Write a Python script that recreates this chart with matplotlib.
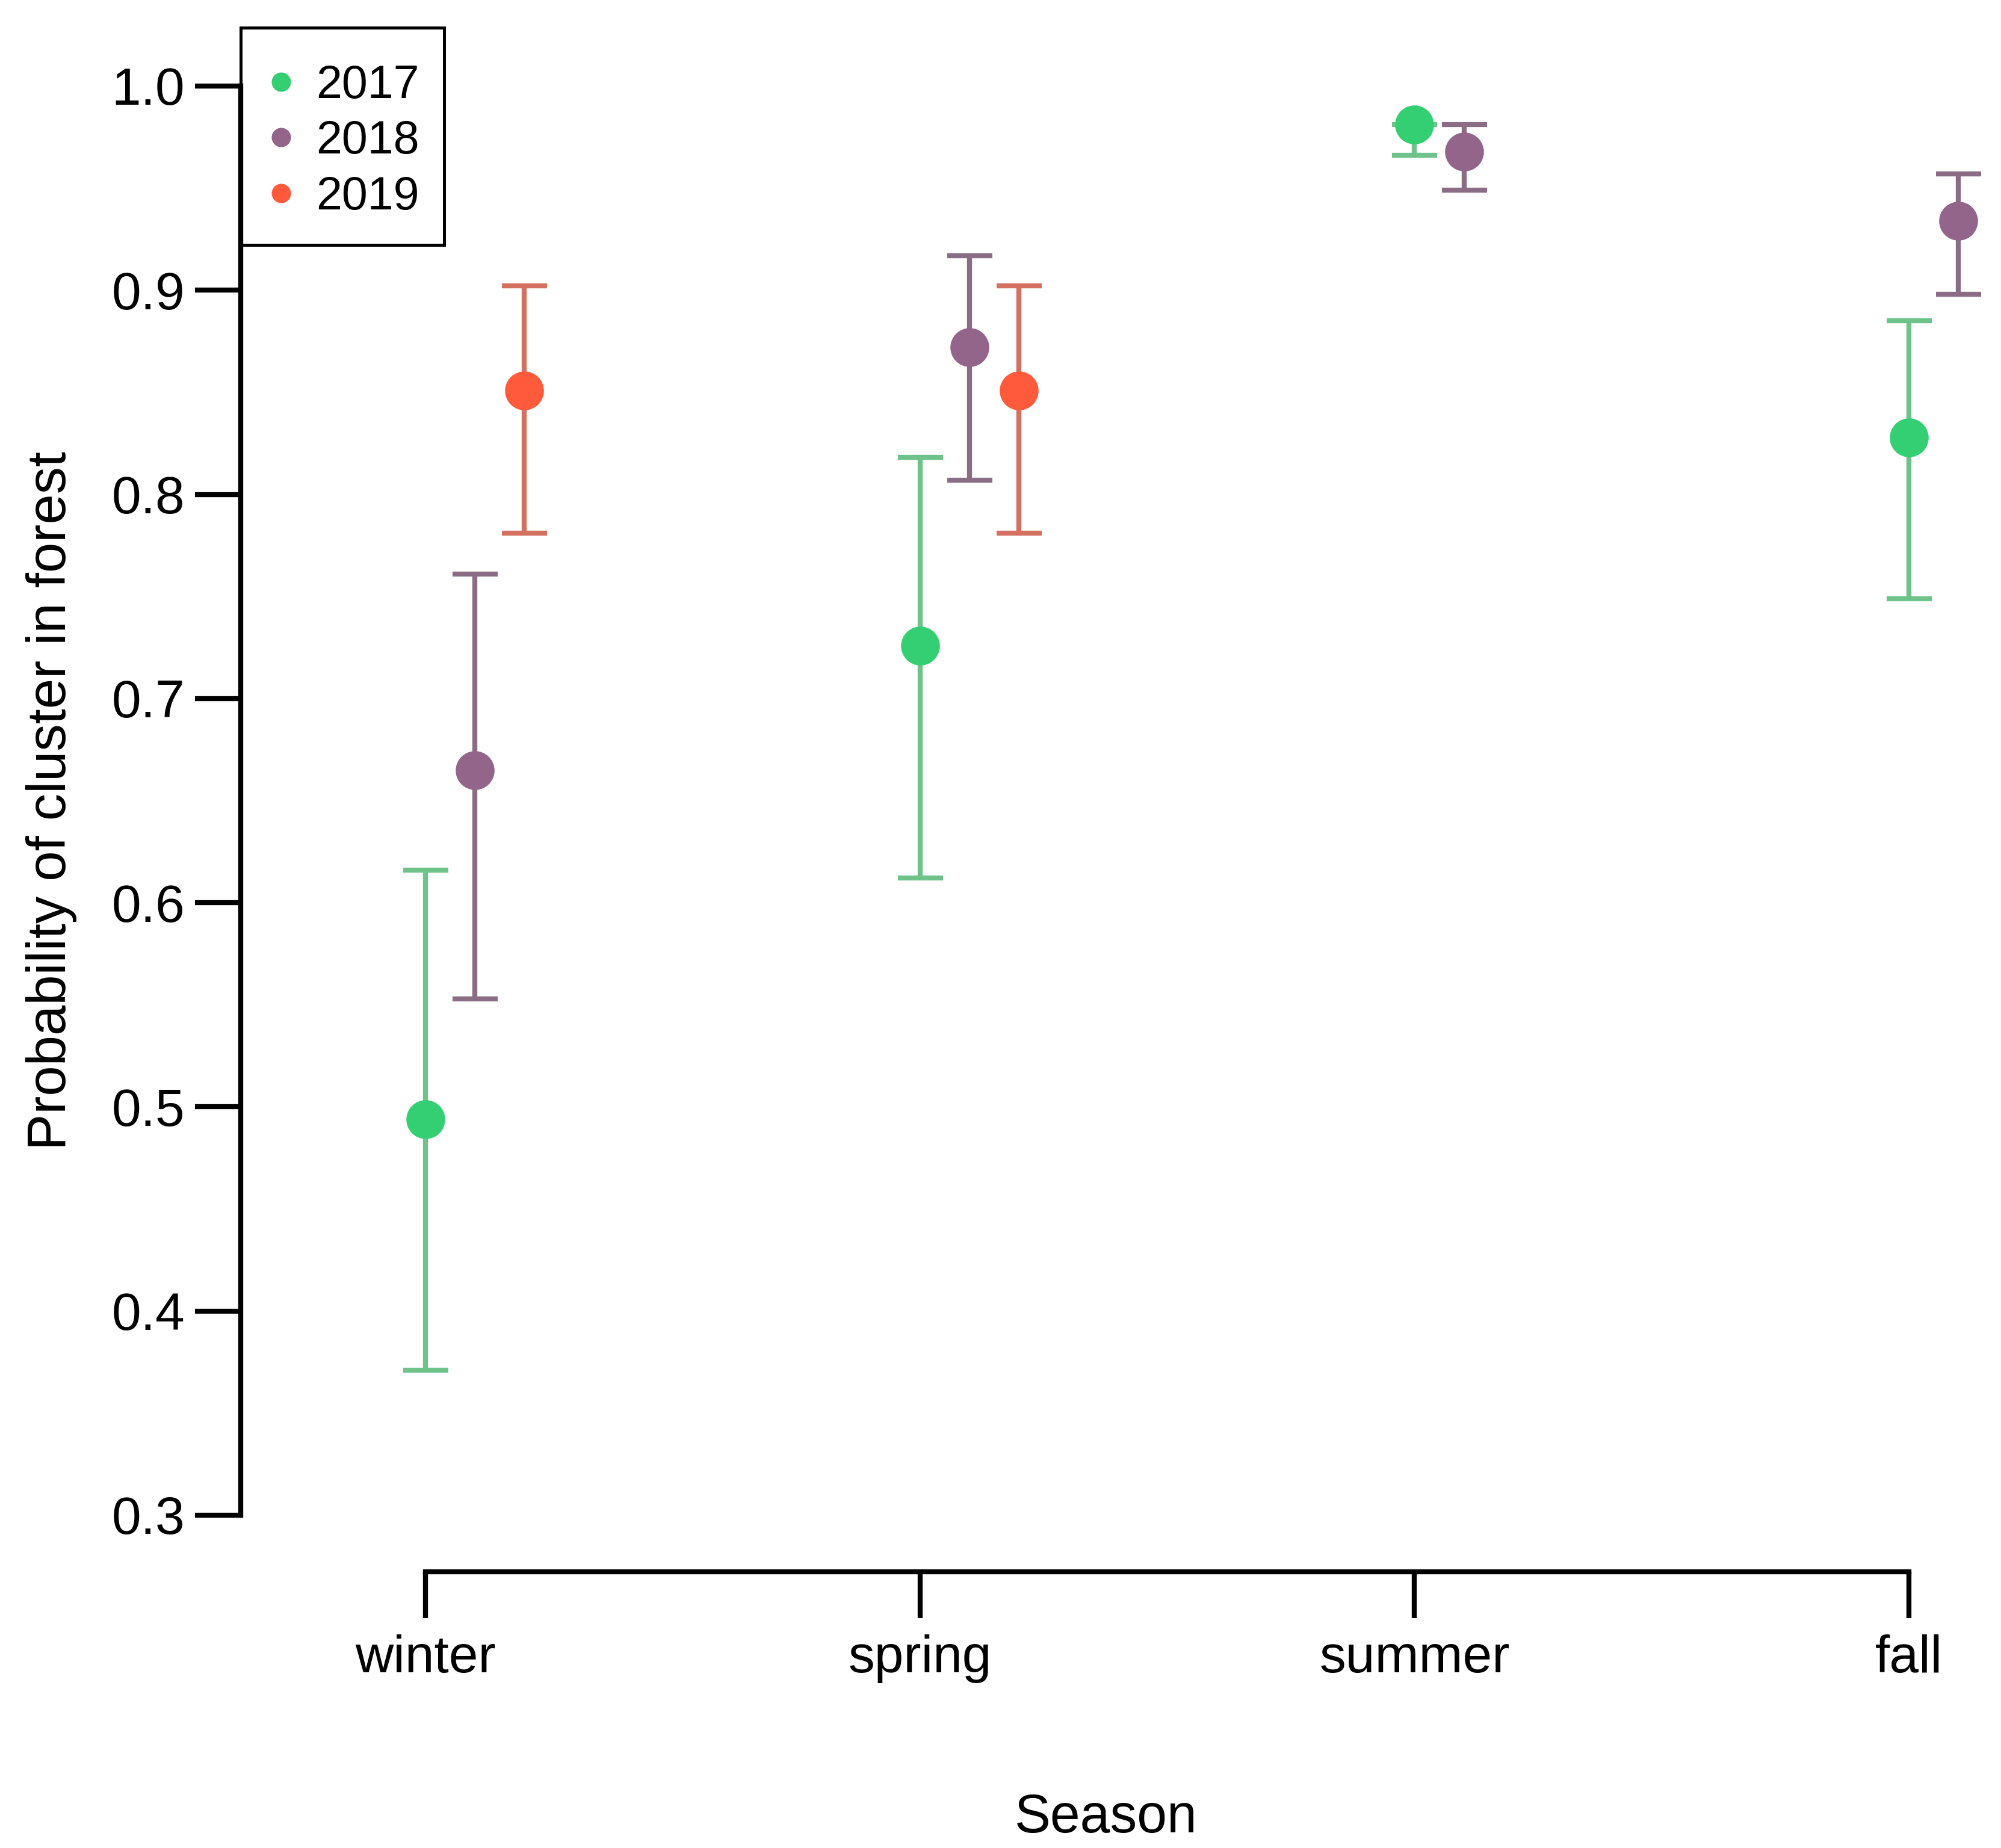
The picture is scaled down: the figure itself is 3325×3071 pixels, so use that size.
import numpy as np
import matplotlib.pyplot as plt
from matplotlib.lines import Line2D
from matplotlib.patches import Rectangle

plt.rcParams['font.family'] = ['Liberation Sans', 'DejaVu Sans']

seasons = ['winter', 'spring', 'summer', 'fall']
years = ['2017', '2018', '2019']

est_2017 = [0.494, 0.726, 0.981, 0.828]
lo_2017 = [0.371, 0.612, 0.966, 0.749]
hi_2017 = [0.616, 0.818, 0.981, 0.885]

est_2018 = [0.665, 0.872, 0.968, 0.934]
lo_2018 = [0.553, 0.807, 0.949, 0.898]
hi_2018 = [0.761, 0.917, 0.981, 0.957]

est_2019 = [0.851, 0.851, np.nan, np.nan]
lo_2019 = [0.781, 0.781, np.nan, np.nan]
hi_2019 = [0.902, 0.902, np.nan, np.nan]

point_colors = ['#35CF73', '#93658A', '#FF5A3C']
bar_colors = ['#6DC38A', '#8A6C85', '#D4705F']

est = [est_2017, est_2018, est_2019]
lo = [lo_2017, lo_2018, lo_2019]
hi = [hi_2017, hi_2018, hi_2019]

W, H = 3325, 3071
fig = plt.figure(figsize=(W / 300, H / 300), dpi=300)
ax = fig.add_axes([400 / W, 1 - 2518 / H, 2925 / W, 2375 / H])

x_base = np.arange(1, len(seasons) + 1)
for i in range(len(years)):
    x = x_base + 0.1 * i
    e = np.array(est[i])
    l = np.array(lo[i])
    h = np.array(hi[i])
    ax.errorbar(x, e, yerr=[e - l, h - e], fmt='none', ecolor=bar_colors[i],
                elinewidth=2, capsize=9, capthick=2, clip_on=False, zorder=2)
    ax.plot(x, e, 'o', color=point_colors[i], markersize=15.5,
            markeredgewidth=0, clip_on=False, zorder=3)

ax.set_xlim(0.6264, 4.186)
ax.set_ylim(0.3, 1.0)
ax.set_yticks([0.3, 0.4, 0.5, 0.6, 0.7, 0.8, 0.9, 1.0])
ax.set_yticklabels(['0.3', '0.4', '0.5', '0.6', '0.7', '0.8', '0.9', '1.0'])
ax.set_xticks(x_base)
ax.set_xticklabels(seasons)

for s in ['top', 'right']:
    ax.spines[s].set_visible(False)
ax.spines['left'].set_bounds(0.3, 1.0)
ax.spines['left'].set_linewidth(2)
ax.spines['bottom'].set_bounds(1, 4)
ax.spines['bottom'].set_linewidth(2)
ax.spines['bottom'].set_position(('outward', 22.6))

ax.tick_params(axis='y', length=18.2, width=2, pad=4, labelsize=21)
ax.tick_params(axis='x', length=18.4, width=2, pad=6.5, labelsize=21)

ax.set_ylabel('Probability of cluster in forest', fontsize=21.7)
ax.yaxis.set_label_coords(-0.093, 0.5)
ax.set_xlabel('Season', fontsize=21.5)
ax.xaxis.set_label_coords(0.4916, -0.194)

# legend entries without frame, box drawn separately like R's legend()
handles = [Line2D([], [], marker='o', linestyle='none', color=c,
                  markersize=7.7, markeredgewidth=0) for c in point_colors]
leg = fig.legend(handles, years, loc='upper left',
                 bbox_to_anchor=(444 / W, 1 - 106 / H),
                 fontsize=18.5, frameon=False,
                 borderpad=0, handlelength=0.6, handletextpad=0.45,
                 labelspacing=0.25, borderaxespad=0)
fig.patches.append(Rectangle((400 / W, 1 - 407 / H), 338 / W, 361 / H,
                             transform=fig.transFigure, fill=False,
                             edgecolor='black', linewidth=1.2, zorder=5))

fig.savefig('out.png', dpi=300, facecolor='white')
